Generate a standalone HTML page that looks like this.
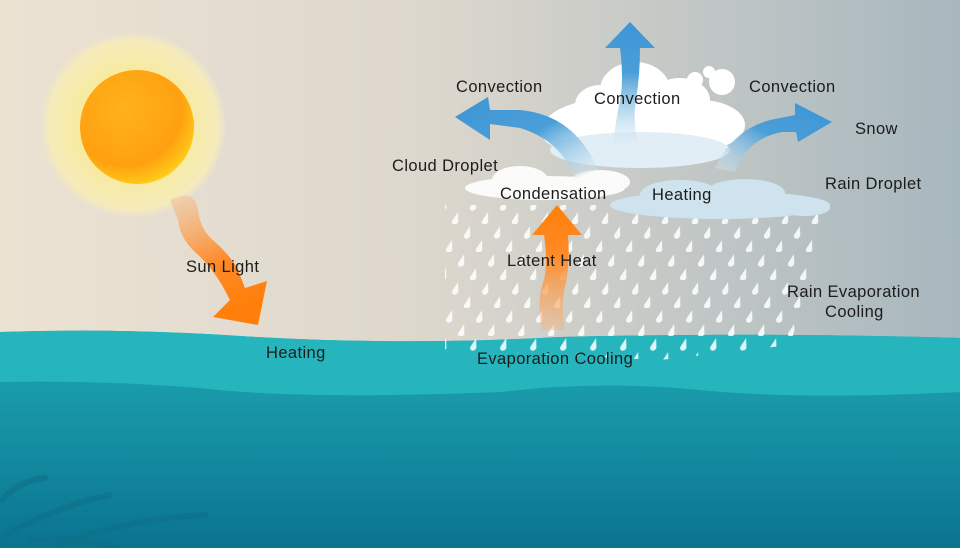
<!DOCTYPE html>
<html><head><meta charset="utf-8"><style>
html,body{margin:0;padding:0;width:960px;height:548px;overflow:hidden}
svg{display:block}
text{font-family:"Liberation Sans",sans-serif;font-size:16.5px;letter-spacing:0.4px;fill:#1c1c1c}
</style></head><body>
<svg width="960" height="548" viewBox="0 0 960 548" xmlns="http://www.w3.org/2000/svg">
<defs>
<linearGradient id="sky" x1="0" x2="1" y1="0" y2="0">
<stop offset="0" stop-color="#ece2d2"/><stop offset="0.45" stop-color="#dcd7cd"/><stop offset="1" stop-color="#a7b7be"/>
</linearGradient>
<linearGradient id="sea" x1="0" x2="0" y1="0" y2="1">
<stop offset="0" stop-color="#1ea9b3"/><stop offset="1" stop-color="#0a7390"/>
</linearGradient>
<radialGradient id="sun" cx="0.4" cy="0.35" r="0.7">
<stop offset="0" stop-color="#ffb21c"/><stop offset="0.7" stop-color="#ffa010"/><stop offset="1" stop-color="#ffd21a"/>
</radialGradient>
<radialGradient id="glow" cx="0.5" cy="0.5" r="0.5">
<stop offset="0.6" stop-color="#f7eba0"/><stop offset="0.92" stop-color="#f5ebbb"/><stop offset="1" stop-color="#f0e4c8" stop-opacity="0.5"/>
</radialGradient>
<linearGradient id="sl" x1="0" y1="0" x2="0.3" y2="1">
<stop offset="0" stop-color="#f0c9a0" stop-opacity="0.6"/><stop offset="0.6" stop-color="#ff8a2a"/><stop offset="1" stop-color="#ff7f0a"/>
</linearGradient>
<linearGradient id="lh" x1="0" y1="1" x2="0" y2="0">
<stop offset="0" stop-color="#f6b27a" stop-opacity="0.4"/><stop offset="0.6" stop-color="#ff8a25"/><stop offset="1" stop-color="#ff7f0a"/>
</linearGradient>
<linearGradient id="bu" x1="0" y1="1" x2="0" y2="0">
<stop offset="0" stop-color="#e4f0f7" stop-opacity="0.3"/><stop offset="0.6" stop-color="#4b9fd8"/><stop offset="1" stop-color="#3d95d6"/>
</linearGradient>
<linearGradient id="bl" x1="1" y1="1" x2="0" y2="0">
<stop offset="0" stop-color="#e4f0f7" stop-opacity="0.3"/><stop offset="0.5" stop-color="#4b9fd8"/><stop offset="1" stop-color="#3d95d6"/>
</linearGradient>
<linearGradient id="br" x1="0" y1="1" x2="1" y2="0">
<stop offset="0" stop-color="#e4f0f7" stop-opacity="0.3"/><stop offset="0.5" stop-color="#4b9fd8"/><stop offset="1" stop-color="#3d95d6"/>
</linearGradient>
<g id="d"><path d="M4,0 L0,9 A3.2,3.2 0 1 0 6.4,10 Z" fill="#fff" opacity="0.85"/></g>
<pattern id="rain" width="30" height="28" patternUnits="userSpaceOnUse" patternTransform="skewX(-12)">
<use href="#d" x="4" y="2"/><use href="#d" x="19" y="16"/>
</pattern>
</defs>
<rect width="960" height="548" fill="url(#sky)"/>
<!-- sea -->
<path d="M0,332 Q120,328 240,336 Q400,346 560,337 Q760,332 960,338 L960,548 L0,548 Z" fill="url(#sea)"/>
<path d="M0,332 Q120,328 240,336 Q400,346 560,337 Q760,332 960,338 L960,392 Q800,400 700,390 Q600,380 500,392 Q300,400 200,388 Q100,380 0,382 Z" fill="#26b5bd"/>
<g fill="none" stroke="#0f7088" stroke-width="6" stroke-linecap="round" opacity="0.6">
<path d="M2,500 Q20,480 45,478"/><path d="M5,535 Q60,505 110,495"/><path d="M60,545 Q120,520 205,515"/><path d="M120,548 Q70,535 30,540"/>
</g>
<!-- sun -->
<circle cx="133" cy="125" r="92" fill="url(#glow)"/>
<circle cx="137" cy="127" r="57" fill="url(#sun)"/>
<!-- sunlight arrow -->
<path d="M170,200 Q195,188 198,210 Q200,230 215,242 Q230,255 238,270 L245,288 L267,281 L258,325 L213,317 L230,300 L222,285 Q210,265 195,252 Q180,238 178,220 Z" fill="url(#sl)"/>
<!-- rain -->
<path d="M445,205 L640,205 L700,190 L830,215 L790,345 L660,360 L445,350 Z" fill="url(#rain)"/>
<!-- latent heat -->
<path d="M542,330 Q536,300 544,280 Q548,262 544,235 L532,235 L557,205 L582,235 L568,235 Q570,262 566,282 Q560,305 565,330 Z" fill="url(#lh)"/>
<!-- clouds -->
<g fill="#fff" opacity="0.92">
<ellipse cx="545" cy="188" rx="80" ry="12"/><ellipse cx="520" cy="180" rx="28" ry="14"/><ellipse cx="600" cy="182" rx="30" ry="12"/>
</g>
<g fill="#cfe3ef">
<ellipse cx="720" cy="205" rx="110" ry="14"/><ellipse cx="680" cy="195" rx="40" ry="15"/><ellipse cx="745" cy="193" rx="40" ry="14"/><ellipse cx="805" cy="208" rx="25" ry="8"/>
</g>
<g fill="#fff">
<ellipse cx="640" cy="125" rx="95" ry="30"/><ellipse cx="580" cy="130" rx="40" ry="22"/><ellipse cx="700" cy="125" rx="45" ry="25"/>
<ellipse cx="635" cy="90" rx="35" ry="28"/><ellipse cx="600" cy="105" rx="25" ry="20"/><ellipse cx="680" cy="100" rx="30" ry="22"/>
<circle cx="695" cy="80" r="8"/><circle cx="722" cy="82" r="13"/><circle cx="709" cy="72" r="6"/>
</g>
<ellipse cx="640" cy="150" rx="90" ry="18" fill="#e2eef5"/>
<!-- blue arrows -->
<path d="M612,150 Q616,120 620,100 Q624,80 620,48 L605,48 L630,22 L655,48 L640,48 Q640,75 636,100 Q632,125 640,150 Z" fill="url(#bu)"/>
<path d="M575,178 Q560,140 520,128 L490,124 L490,140 L455,117 L488,97 L490,110 L520,110 Q575,115 598,170 Z" fill="url(#bl)"/>
<path d="M715,168 Q735,125 780,118 L795,115 L795,103 L832,122 L798,142 L796,132 L782,132 Q748,138 735,172 Z" fill="url(#br)"/>
<!-- labels -->
<text x="456" y="92">Convection</text>
<text x="594" y="104">Convection</text>
<text x="749" y="92">Convection</text>
<text x="855" y="134">Snow</text>
<text x="392" y="171">Cloud Droplet</text>
<text x="500" y="199">Condensation</text>
<text x="652" y="200">Heating</text>
<text x="825" y="189">Rain Droplet</text>
<text x="507" y="266">Latent Heat</text>
<text x="186" y="272">Sun Light</text>
<text x="787" y="297">Rain Evaporation</text>
<text x="825" y="317">Cooling</text>
<text x="266" y="358">Heating</text>
<text x="477" y="364">Evaporation Cooling</text>
</svg>
</body></html>
